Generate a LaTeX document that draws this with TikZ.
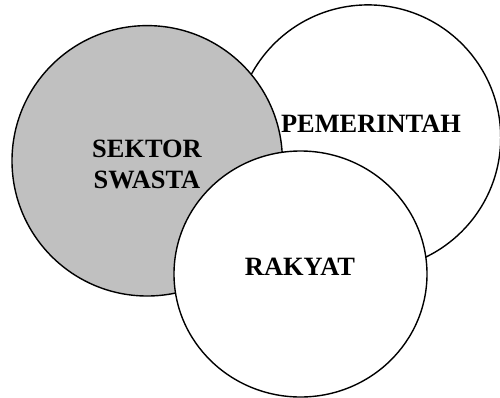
\documentclass[tikz,border=0pt]{standalone}
\usepackage{fontspec}
\setmainfont{Liberation Serif}
\usetikzlibrary{shapes.geometric}

\definecolor{swastagray}{HTML}{C0C0C0}

\tikzset{
  sphere/.style={circle, draw=black, line width=1.4pt, inner sep=0pt},
  label text/.style={font=\fontsize{26.4}{31}\selectfont\bfseries, inner sep=0pt, text=black, align=center}
}

\begin{document}
\begin{tikzpicture}[x=1pt, y=-1pt]
  \useasboundingbox[fill=white] (0,0) rectangle (500,397);

  % three overlapping spheres, back to front
  \node[sphere, fill=white, minimum size=265.4pt] (pem) at (368,137.6) {};
  \node[sphere, fill=swastagray, minimum size=270.4pt] (swasta) at (147.2,160.8) {};
  \node[sphere, ellipse, fill=white, minimum width=253pt, minimum height=246pt] (rakyat) at (300.5,274) {};

  % labels
  \node[label text, anchor=center] (tswasta) at (147,164.8) {SEKTOR\\SWASTA};
  \node[label text, anchor=base] (tpem) at (371,132) {PEMERINTAH};
  \node[label text, anchor=base] (trakyat) at (300,275) {RAKYAT};
\end{tikzpicture}
\end{document}
